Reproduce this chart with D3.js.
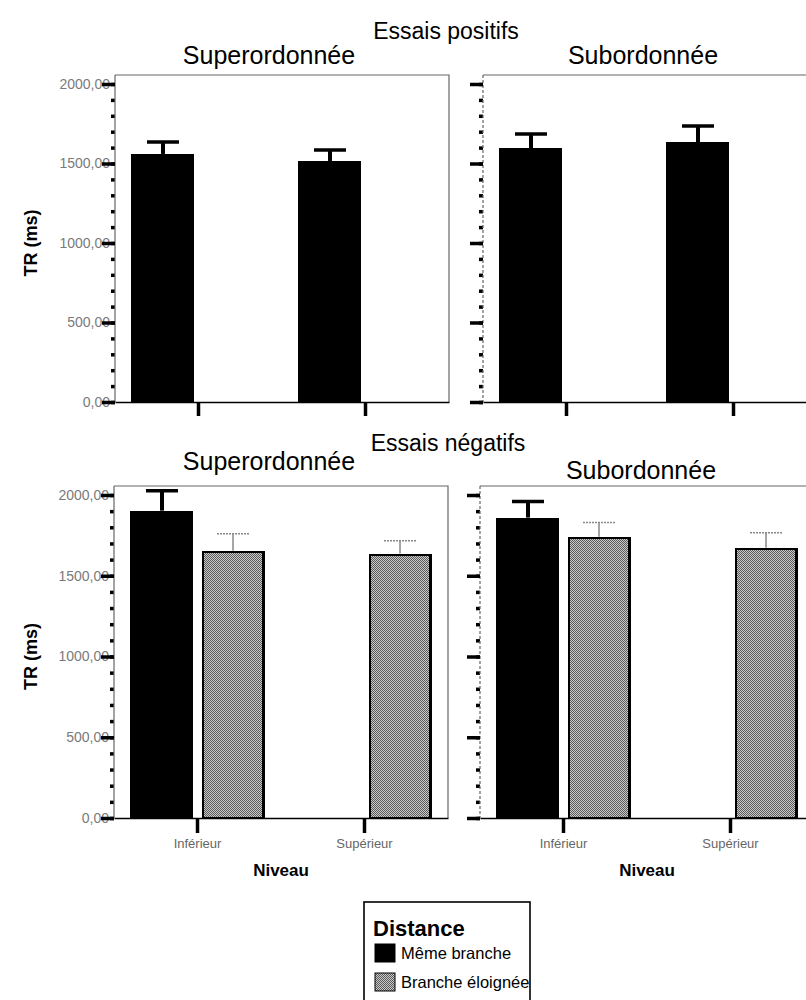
<!DOCTYPE html>
<html>
<head>
<meta charset="utf-8">
<script src="https://cdn.jsdelivr.net/npm/d3@7"></script>
<style>
  body { margin: 0; background: #fff; }
  svg { display: block; }
  text { font-family: "Liberation Sans", Arial, sans-serif; }
</style>
</head>
<body>
<div id="chart"></div>
<script>
// categories
const niveaux = ["Inférieur", "Supérieur"];
const distances = ["Même branche", "Branche éloignée"];
const yTicks = [0, 500, 1000, 1500, 2000];

// Essais positifs : only "Même branche"
const posSuperMeme = [1560, 1516];
const posSuperMemeErr = [1635, 1585];
const posSubMeme = [1597, 1635];
const posSubMemeErr = [1685, 1736];

// Essais négatifs
const negSuperMeme = [1903, null];
const negSuperMemeErr = [2027, null];
const negSuperLoin = [1655, 1637];
const negSuperLoinErr = [1760, 1717];
const negSubMeme = [1860, null];
const negSubMemeErr = [1959, null];
const negSubLoin = [1742, 1674];
const negSubLoinErr = [1829, 1767];

const W = 806, H = 1000;

const svg = d3.select("#chart").append("svg")
  .attr("width", W).attr("height", H)
  .attr("viewBox", `0 0 ${W} ${H}`);

// stippled grey used by the "Branche éloignée" bars
const pat = svg.append("defs").append("pattern")
  .attr("id", "stipple")
  .attr("width", 2).attr("height", 2)
  .attr("patternUnits", "userSpaceOnUse");
pat.append("rect").attr("width", 2).attr("height", 2).attr("fill", "#cacaca");
pat.append("rect").attr("x", 0).attr("y", 0).attr("width", 1).attr("height", 1).attr("fill", "#5a5a5a");
pat.append("rect").attr("x", 1).attr("y", 1).attr("width", 1).attr("height", 1).attr("fill", "#5a5a5a");

function rows(meme, memeErr, loin, loinErr) {
  const out = [];
  niveaux.forEach((n, i) => {
    if (meme && meme[i] != null) out.push({ niveau: n, distance: distances[0], mean: meme[i], err: memeErr[i] });
    if (loin && loin[i] != null) out.push({ niveau: n, distance: distances[1], mean: loin[i], err: loinErr[i] });
  });
  return out;
}

function drawPanel(opt) {
  const g = svg.append("g");
  const x = d3.scaleBand().domain(niveaux).range([opt.x0, opt.x0 + 334]);
  const inner = d3.scaleBand().domain(distances)
    .range([0, x.bandwidth()])
    .paddingInner(0.113).paddingOuter(0.232);
  const y = d3.scaleLinear().domain([0, 2000]).range([opt.y0, opt.y2000]);

  // frame
  g.append("path")
    .attr("d", `M${opt.x0},${opt.frameTop}H${opt.x0 + 334}V${opt.y0}`)
    .attr("fill", "none").attr("stroke", "#666").attr("stroke-width", 1.2);

  // bars
  const data = opt.data;
  const isLoin = d => d.distance === distances[1];
  g.selectAll("rect.bar").data(data).enter().append("rect")
    .attr("class", "bar")
    .attr("x", d => x(d.niveau) + inner(d.distance) + (isLoin(d) ? 1.25 : 0))
    .attr("width", d => inner.bandwidth() - (isLoin(d) ? 2.5 : 0))
    .attr("y", d => y(d.mean) + (isLoin(d) ? 1.25 : 0))
    .attr("height", d => opt.y0 - y(d.mean) - (isLoin(d) ? 1.25 : 0))
    .attr("fill", d => isLoin(d) ? "url(#stipple)" : "#000")
    .attr("stroke", d => isLoin(d) ? "#000" : "none")
    .attr("stroke-width", 2.5)
    .attr("shape-rendering", "crispEdges");

  // error bars
  const eb = g.selectAll("g.err").data(data).enter().append("g").attr("class", "err");
  const cx = d => x(d.niveau) + inner(d.distance) + inner.bandwidth() / 2;
  eb.append("line")
    .attr("x1", cx).attr("x2", cx)
    .attr("y1", d => y(d.mean)).attr("y2", d => y(d.err))
    .attr("stroke", d => isLoin(d) ? "#888" : "#000")
    .attr("stroke-width", d => isLoin(d) ? 1.5 : 4);
  eb.append("line")
    .attr("x1", d => cx(d) - 16).attr("x2", d => cx(d) + 16)
    .attr("y1", d => y(d.err)).attr("y2", d => y(d.err))
    .attr("stroke", d => isLoin(d) ? "#888" : "#000")
    .attr("stroke-width", d => isLoin(d) ? 1.5 : 3.5)
    .attr("stroke-dasharray", d => isLoin(d) ? "2,1" : null);

  // y axis
  const yMinor = g.append("g").attr("transform", `translate(${opt.x0},0)`)
    .call(d3.axisLeft(y).ticks(20).tickSize(4).tickFormat(""));
  yMinor.select(".domain").remove();
  yMinor.selectAll(".tick line").attr("stroke", "#000").attr("stroke-width", 3.5);

  const yAxis = g.append("g").attr("transform", `translate(${opt.x0},0)`)
    .call(d3.axisLeft(y).tickValues(yTicks).tickSize(13).tickPadding(-8)
      .tickFormat(d => opt.yLabels ? d3.format(".2f")(d).replace(".", ",") : ""));
  yAxis.select(".domain")
    .attr("d", `M0,${opt.frameTop}V${opt.y0}`)
    .attr("stroke", "#666").attr("stroke-width", 1.2)
    .attr("stroke-dasharray", opt.yLabels ? null : "3,2");
  yAxis.selectAll(".tick line").attr("stroke", "#000").attr("stroke-width", 3.5);
  yAxis.selectAll(".tick text")
    .attr("font-size", 14).attr("fill", "#7a7a7a")
    .attr("font-family", "'Liberation Sans', Arial, sans-serif").lower();

  // x axis
  const xAxis = g.append("g").attr("transform", `translate(0,${opt.y0})`)
    .call(d3.axisBottom(x).tickSize(opt.xLabels ? 15 : 14).tickSizeOuter(0).tickPadding(6)
      .tickFormat(d => opt.xLabels ? d : ""));
  xAxis.select(".domain").attr("stroke", "#000").attr("stroke-width", 1.6);
  xAxis.selectAll(".tick line").attr("stroke", "#000").attr("stroke-width", 3.5);
  xAxis.selectAll(".tick text")
    .attr("font-size", 13).attr("fill", "#666")
    .attr("font-family", "'Liberation Sans', Arial, sans-serif");

  if (opt.xLabels) {
    g.append("text")
      .attr("x", opt.x0 + 167).attr("y", opt.y0 + 58)
      .attr("text-anchor", "middle")
      .attr("font-size", 17).attr("font-weight", "bold")
      .text("Niveau");
  }
  if (opt.yLabels) {
    g.append("text")
      .attr("transform", `translate(37,${(opt.y0 + opt.y2000) / 2}) rotate(-90)`)
      .attr("text-anchor", "middle")
      .attr("font-size", 18).attr("font-weight", "bold")
      .text("TR (ms)");
  }
  g.append("text")
    .attr("x", opt.titleX).attr("y", opt.titleY)
    .attr("text-anchor", "middle")
    .attr("font-size", 25)
    .text(opt.title);
}

// titles of the two rows
svg.append("text").attr("x", 446).attr("y", 39).attr("text-anchor", "middle")
  .attr("font-size", 23).text("Essais positifs");
svg.append("text").attr("x", 448).attr("y", 451).attr("text-anchor", "middle")
  .attr("font-size", 23).text("Essais négatifs");

drawPanel({ x0: 115, y0: 402, y2000: 84, frameTop: 75, yLabels: true, xLabels: false,
  title: "Superordonnée", titleX: 269, titleY: 64,
  data: rows(posSuperMeme, posSuperMemeErr, null, null) });
drawPanel({ x0: 483, y0: 402, y2000: 84, frameTop: 75, yLabels: false, xLabels: false,
  title: "Subordonnée", titleX: 643, titleY: 64,
  data: rows(posSubMeme, posSubMemeErr, null, null) });
drawPanel({ x0: 114, y0: 818, y2000: 495, frameTop: 486, yLabels: true, xLabels: true,
  title: "Superordonnée", titleX: 269, titleY: 470,
  data: rows(negSuperMeme, negSuperMemeErr, negSuperLoin, negSuperLoinErr) });
drawPanel({ x0: 480, y0: 818, y2000: 495, frameTop: 486, yLabels: false, xLabels: true,
  title: "Subordonnée", titleX: 641, titleY: 479,
  data: rows(negSubMeme, negSubMemeErr, negSubLoin, negSubLoinErr) });

// legend
const lg = svg.append("g").attr("transform", "translate(364,902)");
lg.append("rect").attr("width", 166).attr("height", 110)
  .attr("fill", "#fff").attr("stroke", "#000").attr("stroke-width", 1.6);
lg.append("text").attr("x", 9).attr("y", 34)
  .attr("font-size", 22).attr("font-weight", "bold").text("Distance");
const items = lg.selectAll("g.item").data(distances).enter().append("g")
  .attr("class", "item")
  .attr("transform", (d, i) => `translate(11,${42 + i * 29})`);
items.append("rect").attr("width", 20).attr("height", 18)
  .attr("fill", (d, i) => i === 0 ? "#000" : "url(#stipple)")
  .attr("stroke", "#000").attr("stroke-width", 1);
items.append("text").attr("x", 26).attr("y", 15)
  .attr("font-size", 16.5).text(d => d);
</script>
</body>
</html>
